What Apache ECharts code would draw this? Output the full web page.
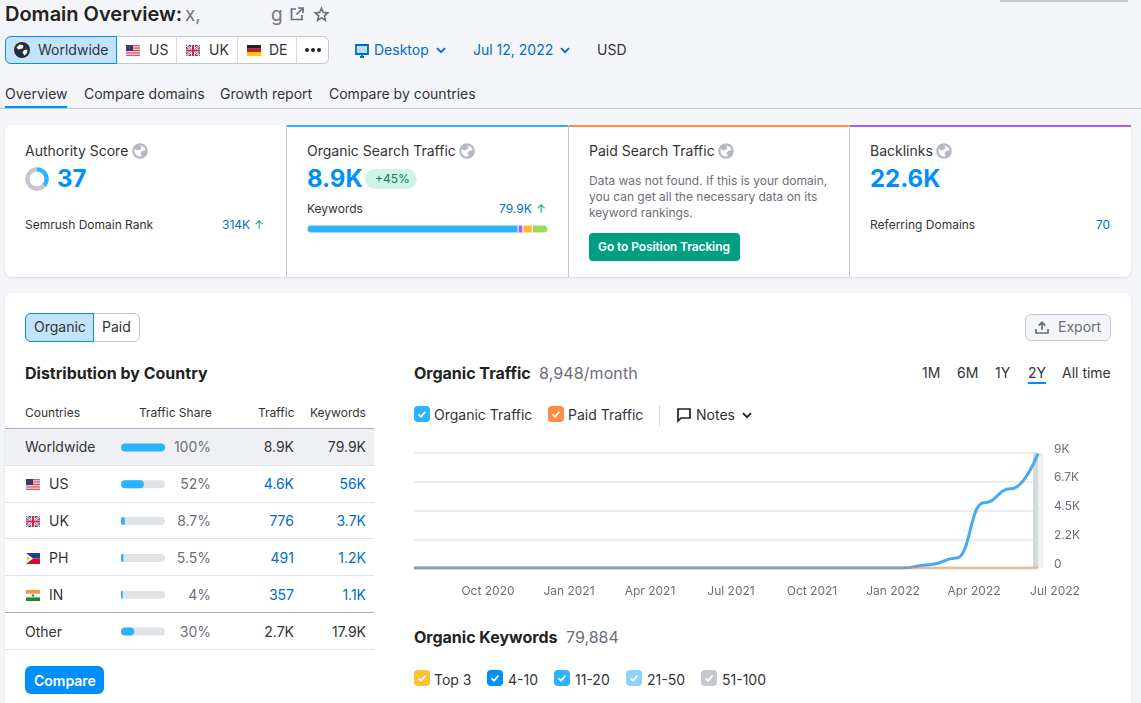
<!DOCTYPE html>
<html>
<head>
<meta charset="utf-8">
<script src="https://cdn.jsdelivr.net/npm/echarts@6/dist/echarts.min.js"></script>
<style>
html, body { margin: 0; padding: 0; background: #f4f5f9; }
body { position: relative; width: 1141px; height: 703px; overflow: hidden; font-family: Inter, sans-serif; color: #333; font-size: 14px; }
.t { position: absolute; white-space: nowrap; line-height: 18px; }
.r { text-align: right; }
.blue { color: #006dca; }
.grey { color: #6c6e79; }
.h { font-size: 16px; line-height: 20px; font-weight: 700; color: #222; }
.card { position: absolute; background: #fff; box-sizing: border-box; }
.abs { position: absolute; }
.chart { position: absolute; }
.rowline { position: absolute; left: 5px; width: 369px; height: 1px; background: #e0e1e9; }
.check { position: absolute; width: 16px; height: 16px; border-radius: 4px; }
.ic { position: absolute; overflow: visible; }
</style>
</head>
<body>

<svg width="0" height="0" style="position:absolute">
  <symbol id="globe" viewBox="0 0 16 16">
    <circle cx="8" cy="8" r="7.8" fill="currentColor"/>
    <circle cx="8" cy="8" r="5.6" fill="#fff"/>
    <path fill="currentColor" d="M6 2 9.5 3.5 8.5 6.5 4.5 7.5 2.5 5ZM10 8 14 7 13.5 11 10.5 14 8.5 10.5Z"/>
  </symbol>
  <symbol id="tick" viewBox="0 0 16 16">
    <path d="M4.5 8.3 7 10.6 11.5 5.6" fill="none" stroke="#fff" stroke-width="1.8"/>
  </symbol>
  <symbol id="chev" viewBox="0 0 10 7">
    <path d="M1 1.2 5 5.2 9 1.2" fill="none" stroke="currentColor" stroke-width="1.9"/>
  </symbol>
  <symbol id="fUS" viewBox="0 0 14 11">
    <rect width="14" height="11" fill="#fff"/>
    <path stroke="#c8283c" stroke-width="0.85" d="M0 .4H14M0 2.1H14M0 3.8H14M0 5.5H14M0 7.2H14M0 8.9H14M0 10.6H14"/>
    <rect width="7" height="6" fill="#3c3b6e"/>
  </symbol>
  <symbol id="fUK" viewBox="0 0 14 11">
    <rect width="14" height="11" fill="#2f4a9c"/>
    <path stroke="#fff" stroke-width="2.2" d="M0 0 14 11M14 0 0 11"/>
    <path stroke="#d2233c" stroke-width="0.9" d="M0 0 14 11M14 0 0 11"/>
    <path stroke="#fff" stroke-width="3.6" d="M7 0V11M0 5.5H14"/>
    <path stroke="#d2233c" stroke-width="2" d="M7 0V11M0 5.5H14"/>
  </symbol>
  <symbol id="fDE" viewBox="0 0 14 11">
    <rect width="14" height="3.7" fill="#222"/>
    <rect y="3.7" width="14" height="3.7" fill="#d8141c"/>
    <rect y="7.4" width="14" height="3.6" fill="#fc0"/>
  </symbol>
  <symbol id="fPH" viewBox="0 0 14 11">
    <rect width="14" height="5.5" fill="#1c3f94"/>
    <rect y="5.5" width="14" height="5.5" fill="#ce1126"/>
    <path fill="#fff" d="M0 0 7 5.5 0 11Z"/>
    <circle cx="2.2" cy="5.5" r="1.4" fill="#f5c518"/>
  </symbol>
  <symbol id="fIN" viewBox="0 0 14 11">
    <rect width="14" height="11" fill="#fff"/>
    <rect width="14" height="3.7" fill="#f39a3c"/>
    <rect y="7.4" width="14" height="3.6" fill="#1f8a2c"/>
    <circle cx="7" cy="5.5" r="1.3" fill="#5a6fb0"/>
  </symbol>
</svg>

<div class="abs" style="left:1000px;top:0;width:128px;height:1.5px;background:#c4c7cf"></div>

<div class="t" style="left:5px;top:2px;font-size:20px;line-height:24px;font-weight:600;color:#222">Domain Overview:</div>
<div class="t" style="left:185px;top:3px;font-size:19px;line-height:24px;color:#777">x,</div>
<div class="t" style="left:271px;top:3px;font-size:19px;line-height:24px;color:#777">g</div>
<svg class="ic" style="left:290px;top:7px;color:#6c6e79" width="14" height="14" viewBox="0 0 14 14"><path d="M6 2H1.5V12.5H12V8M8 1H13V6M13 1 6.5 7.5" fill="none" stroke="currentColor" stroke-width="1.7"/></svg>
<svg class="ic" style="left:314px;top:7px;color:#6c6e79" width="15" height="15" viewBox="0 0 15 15"><path d="M7.5 1.3 9.3 5.4 13.8 5.8 10.4 8.8 11.4 13.3 7.5 10.9 3.6 13.3 4.6 8.8 1.2 5.8 5.7 5.4Z" fill="none" stroke="currentColor" stroke-width="1.6"/></svg>

<div class="abs" style="left:5px;top:36px;width:322px;height:26px;border:1px solid #c4c7cf;border-radius:6px;background:#fff"></div>
<div class="abs" style="left:5px;top:36px;width:110px;height:26px;border:1px solid #008ff8;border-radius:6px 0 0 6px;background:#c2e3fb"></div>
<div class="abs" style="left:176px;top:37px;width:1px;height:26px;background:#d6d8df"></div>
<div class="abs" style="left:237px;top:37px;width:1px;height:26px;background:#d6d8df"></div>
<div class="abs" style="left:296px;top:37px;width:1px;height:26px;background:#d6d8df"></div>
<svg class="ic" style="left:14px;top:42px;color:#2a2c36" width="16" height="16" viewBox="0 0 16 16"><circle cx="8" cy="8" r="8" fill="currentColor"/><path fill="#fff" d="M5.5 2.5 9.5 3.5 8.5 6.5 4.5 7.5 2.5 5.5ZM10 8 13.5 7.5 13 11 10.5 13.5 8.5 10.5Z"/></svg>
<div class="t" style="left:38px;top:41px">Worldwide</div>
<svg class="ic" style="left:126px;top:45px" width="14" height="11"><use href="#fUS"/></svg>
<div class="t" style="left:149px;top:41px">US</div>
<svg class="ic" style="left:186px;top:45px" width="14" height="11"><use href="#fUK"/></svg>
<div class="t" style="left:209px;top:41px">UK</div>
<svg class="ic" style="left:247px;top:45px" width="14" height="11"><use href="#fDE"/></svg>
<div class="t" style="left:269px;top:41px">DE</div>
<svg class="ic" style="left:305px;top:48px;color:#222" width="16" height="4" viewBox="0 0 16 4"><circle cx="2" cy="2" r="2" fill="currentColor"/><circle cx="8" cy="2" r="2" fill="currentColor"/><circle cx="14" cy="2" r="2" fill="currentColor"/></svg>

<svg class="ic" style="left:355px;top:44px;color:#006dca" width="14" height="14" viewBox="0 0 14 14"><path d="M1 1H13V10H1Z" fill="#bfe0f7" stroke="currentColor" stroke-width="1.8"/><path d="M5 13H9M7 10V13" stroke="currentColor" stroke-width="1.8"/></svg>
<div class="t blue" style="left:374px;top:41px">Desktop</div>
<svg class="ic" style="left:436px;top:47px;color:#006dca" width="10" height="7"><use href="#chev"/></svg>
<div class="t blue" style="left:473px;top:41px">Jul 12, 2022</div>
<svg class="ic" style="left:560px;top:47px;color:#006dca" width="10" height="7"><use href="#chev"/></svg>
<div class="t" style="left:597px;top:41px">USD</div>

<div class="t" style="left:5px;top:85px">Overview</div>
<div class="abs" style="left:5px;top:106px;width:62px;height:2px;background:#008ff8"></div>
<div class="t" style="left:84px;top:85px">Compare domains</div>
<div class="t" style="left:220px;top:85px">Growth report</div>
<div class="t" style="left:329px;top:85px">Compare by countries</div>
<div class="abs" style="left:0;top:108px;width:1141px;height:1px;background:#c4c7cf"></div>

<!-- summary cards -->
<div class="card" style="left:5px;top:125px;width:1126px;height:152px;border-radius:6px;box-shadow:0 1px 2px rgba(0,0,0,.12)"></div>
<div class="abs" style="left:286px;top:125px;width:1px;height:152px;background:#c4c7cf"></div>
<div class="abs" style="left:568px;top:125px;width:1px;height:152px;background:#c4c7cf"></div>
<div class="abs" style="left:849px;top:125px;width:1px;height:152px;background:#c4c7cf"></div>
<div class="abs" style="left:287px;top:125px;width:281px;height:2px;background:#2bb3ff"></div>
<div class="abs" style="left:569px;top:125px;width:280px;height:2px;background:#ff8c43"></div>
<div class="abs" style="left:850px;top:125px;width:281px;height:2px;background:#a75cf2"></div>

<div class="t" style="left:25px;top:142px">Authority Score</div>
<svg class="ic" style="left:132px;top:143px;color:#b4b7c2" width="16" height="16"><use href="#globe"/></svg>
<div id="scoreRing" class="chart" style="left:25px;top:167px;width:24px;height:24px"></div>
<div class="t" style="left:57px;top:164px;font-size:24px;line-height:30px;font-weight:700;color:#008ff8">37</div>
<div class="t" style="left:25px;top:216px;font-size:12px">Semrush Domain Rank</div>
<div class="t blue" style="left:222px;top:216px;font-size:12px">314K</div>
<div class="t" style="left:254px;top:216px;font-size:12px;color:#009f81">↑</div>

<div class="t" style="left:307px;top:142px">Organic Search Traffic</div>
<svg class="ic" style="left:459px;top:143px;color:#b4b7c2" width="16" height="16"><use href="#globe"/></svg>
<div class="t" style="left:307px;top:164px;font-size:24px;line-height:30px;font-weight:700;color:#008ff8">8.9K</div>
<div class="abs" style="left:365px;top:169px;width:52px;height:20px;border-radius:10px;background:#cff3e4"></div>
<div class="t" style="left:375px;top:170px;font-size:12px;color:#007c65">+45%</div>
<div class="t" style="left:307px;top:200px;font-size:12px">Keywords</div>
<div class="t blue" style="left:499px;top:200px;font-size:12px">79.9K</div>
<div class="t" style="left:536px;top:200px;font-size:12px;color:#009f81">↑</div>
<div id="keywordBar" class="chart" style="left:307px;top:223px;width:241px;height:12px"></div>

<div class="t" style="left:589px;top:142px">Paid Search Traffic</div>
<svg class="ic" style="left:718px;top:143px;color:#b4b7c2" width="16" height="16"><use href="#globe"/></svg>
<div class="t grey" style="left:589px;top:173px;font-size:12px;line-height:16px">Data was not found. If this is your domain,<br>you can get all the necessary data on its<br>keyword rankings.</div>
<div class="abs" style="left:589px;top:233px;width:151px;height:28px;border-radius:4px;background:#009f81"></div>
<div class="t" style="left:598px;top:238px;font-size:12px;font-weight:600;color:#fff;letter-spacing:-0.1px">Go to Position Tracking</div>

<div class="t" style="left:870px;top:142px">Backlinks</div>
<svg class="ic" style="left:936px;top:143px;color:#b4b7c2" width="16" height="16"><use href="#globe"/></svg>
<div class="t" style="left:870px;top:164px;font-size:24px;line-height:30px;font-weight:700;color:#008ff8">22.6K</div>
<div class="t" style="left:870px;top:216px;font-size:12px">Referring Domains</div>
<div class="t blue" style="left:1096px;top:216px;font-size:12px">70</div>

<!-- main card -->
<div class="card" style="left:5px;top:293px;width:1126px;height:420px;border-radius:6px;box-shadow:0 1px 2px rgba(0,0,0,.12)"></div>
<div class="abs" style="left:25px;top:313px;width:113px;height:27px;border:1px solid #c4c7cf;border-radius:6px"></div>
<div class="abs" style="left:25px;top:313px;width:67px;height:27px;border:1px solid #008ff8;border-radius:6px 0 0 6px;background:#c2e3fb"></div>
<div class="t" style="left:34px;top:318px">Organic</div>
<div class="t" style="left:102px;top:318px">Paid</div>
<div class="abs" style="left:1025px;top:314px;width:84px;height:25px;border:1px solid #c4c7cf;border-radius:6px;background:#f4f5f9"></div>
<svg class="ic" style="left:1035px;top:321px;color:#6c6e79" width="14" height="13" viewBox="0 0 14 13"><path d="M7 9V1.5M3.7 4.6 7 1.3 10.3 4.6M1 8V12H13V8" fill="none" stroke="currentColor" stroke-width="1.7"/></svg>
<div class="t" style="left:1058px;top:318px;color:#6c6e79">Export</div>

<div class="t h" style="left:25px;top:363px">Distribution by Country</div>
<div class="t" style="left:25px;top:404px;font-size:12px">Countries</div>
<div class="t" style="left:139px;top:404px;font-size:12px">Traffic Share</div>
<div class="t" style="left:258px;top:404px;font-size:12px">Traffic</div>
<div class="t" style="left:310px;top:404px;font-size:12px">Keywords</div>

<div class="abs" style="left:5px;top:429px;width:369px;height:36px;background:#eff0f4"></div>
<div class="abs" style="left:5px;top:428px;width:369px;height:1px;background:#a9abb6"></div>
<div class="rowline" style="top:465px"></div>
<div class="rowline" style="top:502px"></div>
<div class="rowline" style="top:538px"></div>
<div class="rowline" style="top:575px"></div>
<div class="rowline" style="top:612px;background:#a9abb6"></div>
<div class="rowline" style="top:649px"></div>

<div id="countryRows"></div>
<div id="shareBars" class="chart" style="left:117px;top:429px;width:52px;height:221px"></div>

<div class="abs" style="left:25px;top:666px;width:79px;height:28px;border-radius:6px;background:#008ff8"></div>
<div class="t" style="left:34px;top:672px;font-weight:600;color:#fff">Compare</div>

<div class="t h" style="left:414px;top:363px">Organic Traffic</div>
<div class="t" style="left:539px;top:363px;font-size:16px;line-height:20px;color:#6c6e79;letter-spacing:0.1px">8,948/month</div>
<div class="t" style="left:922px;top:364px">1M</div>
<div class="t" style="left:957px;top:364px">6M</div>
<div class="t" style="left:995px;top:364px">1Y</div>
<div class="t" style="left:1028px;top:364px">2Y</div>
<div class="abs" style="left:1028px;top:382px;width:18px;height:2px;background:#008ff8"></div>
<div class="t" style="left:1062px;top:364px">All time</div>

<div class="check" style="left:414px;top:406px;background:#2bb3ff"><svg width="16" height="16"><use href="#tick"/></svg></div>
<div class="t" style="left:434px;top:406px">Organic Traffic</div>
<div class="check" style="left:548px;top:406px;background:#ff8c43"><svg width="16" height="16"><use href="#tick"/></svg></div>
<div class="t" style="left:568px;top:406px">Paid Traffic</div>
<div class="abs" style="left:659px;top:405px;width:1px;height:21px;background:#d6d8df"></div>
<svg class="ic" style="left:677px;top:408px;color:#222" width="14" height="14" viewBox="0 0 14 14"><path d="M1 1H13V10H4L1 13Z" fill="none" stroke="currentColor" stroke-width="1.7"/></svg>
<div class="t" style="left:696px;top:406px">Notes</div>
<svg class="ic" style="left:742px;top:412px;color:#222" width="10" height="7"><use href="#chev"/></svg>

<div id="main" class="chart" style="left:404px;top:436px;width:700px;height:170px"></div>

<div class="t h" style="left:414px;top:627px">Organic Keywords</div>
<div class="t" style="left:566px;top:627px;font-size:16px;line-height:20px;color:#6c6e79">79,884</div>
<div class="check" style="left:414px;top:670px;background:#ffc133"><svg width="16" height="16"><use href="#tick"/></svg></div>
<div class="t" style="left:434px;top:671px">Top 3</div>
<div class="check" style="left:487px;top:670px;background:#008ff8"><svg width="16" height="16"><use href="#tick"/></svg></div>
<div class="t" style="left:508px;top:671px">4-10</div>
<div class="check" style="left:554px;top:670px;background:#2bb3ff"><svg width="16" height="16"><use href="#tick"/></svg></div>
<div class="t" style="left:575px;top:671px">11-20</div>
<div class="check" style="left:626px;top:670px;background:#8ed0fb"><svg width="16" height="16"><use href="#tick"/></svg></div>
<div class="t" style="left:647px;top:671px">21-50</div>
<div class="check" style="left:701px;top:670px;background:#c4c7cf"><svg width="16" height="16"><use href="#tick"/></svg></div>
<div class="t" style="left:722px;top:671px">51-100</div>

<script>
// chart data
const months = ['Jul 2020','Aug 2020','Sep 2020','Oct 2020','Nov 2020','Dec 2020','Jan 2021','Feb 2021','Mar 2021','Apr 2021','May 2021','Jun 2021','Jul 2021','Aug 2021','Sep 2021','Oct 2021','Nov 2021','Dec 2021','Jan 2022','Feb 2022','Mar 2022','Apr 2022','May 2022','Jun 2022','Jul 2022']
const organicTraffic = [0,0,0,0,0,0,0,0,0,0,0,0,0,0,0,0,0,0,0,260,790,5100,6200,8948]
const paidTraffic = [0,0,0,0,0,0,0,0,0,0,0,0,0,0,0,0,0,0,0,0,0,0,0,0]
const yTicks = [0,2250,4500,6750,9000]
const yTickLabels = ['0','2.2K','4.5K','6.7K','9K']
const xTickLabels = ['Oct 2020','Jan 2021','Apr 2021','Jul 2021','Oct 2021','Jan 2022','Apr 2022','Jul 2022']

const countries = ['Worldwide','US','UK','PH','IN','Other']
const flags = ['','fUS','fUK','fPH','fIN','']
const shareLabels = ['100%','52%','8.7%','5.5%','4%','30%']
const shareValues = [100,52,8.7,5.5,4,30]
const trafficLabels = ['8.9K','4.6K','776','491','357','2.7K']
const keywordLabels = ['79.9K','56K','3.7K','1.2K','1.1K','17.9K']

const keywordBarNames = ['Informational','Navigational','Commercial','Transactional']
const keywordBarValues = [87.6,2,3.9,6.5]
const authorityScore = 37

// table rows
const rowTops = [429,466,503,540,577,614]
const rowHtml = []
countries.forEach(function (name, i) {
  const linked = i > 0 && i < 5
  const top = rowTops[i] + 9
  const labelLeft = linked ? 49 : 25
  const color = linked ? '#006dca' : '#333'
  if (flags[i]) {
    rowHtml.push('<svg class="ic" style="left:26px;top:' + (rowTops[i] + 13) + 'px" width="14" height="11"><use href="#' + flags[i] + '"/></svg>')
  }
  rowHtml.push('<div class="t" style="left:' + labelLeft + 'px;top:' + top + 'px">' + name + '</div>')
  rowHtml.push('<div class="t r grey" style="left:170px;width:41px;top:' + top + 'px">' + shareLabels[i] + '</div>')
  rowHtml.push('<div class="t r" style="left:240px;width:54px;top:' + top + 'px;color:' + color + '">' + trafficLabels[i] + '</div>')
  rowHtml.push('<div class="t r" style="left:310px;width:56px;top:' + top + 'px;color:' + color + '">' + keywordLabels[i] + '</div>')
})
document.getElementById('countryRows').innerHTML = rowHtml.join('')

// traffic share bars
const shareChart = echarts.init(document.getElementById('shareBars'))
shareChart.setOption({
  animation: false,
  grid: { left: 4, right: 4, top: 0, bottom: 0 },
  xAxis: { type: 'value', min: 0, max: 100, show: false },
  yAxis: { type: 'category', inverse: true, data: countries, show: false },
  series: [{
    type: 'bar',
    data: shareValues,
    barWidth: 8,
    showBackground: true,
    backgroundStyle: { color: '#dfe3e6', borderRadius: 4 },
    itemStyle: { color: '#2bb3ff', borderRadius: 4 }
  }]
})

// authority score ring
const ringChart = echarts.init(document.getElementById('scoreRing'))
ringChart.setOption({
  animation: false,
  series: [{
    type: 'pie',
    radius: ['62%', '98%'],
    center: ['50%', '50%'],
    startAngle: 90,
    silent: true,
    label: { show: false },
    data: [
      { value: authorityScore, itemStyle: { color: '#2bb3ff' } },
      { value: 100 - authorityScore, itemStyle: { color: '#c4c7cf' } }
    ]
  }]
})

// keyword intent bar
const barColors = ['#2bb3ff','#a75cf2','#ffb933','#9cd85a']
const kwChart = echarts.init(document.getElementById('keywordBar'))
kwChart.setOption({
  animation: false,
  grid: { left: 0, right: 0, top: 0, bottom: 0 },
  xAxis: { type: 'value', min: 0, max: 100, show: false },
  yAxis: { type: 'category', data: ['keywords'], show: false },
  series: keywordBarNames.map(function (name, i) {
    return {
      name: name,
      type: 'bar',
      stack: 'kw',
      barWidth: 8,
      data: [keywordBarValues[i]],
      itemStyle: {
        color: barColors[i],
        borderColor: '#fff',
        borderWidth: 0.5,
        borderRadius: i === 0 ? [4, 0, 0, 4] : (i === 3 ? [0, 4, 4, 0] : 0)
      }
    }
  })
})

// organic traffic line, the month labels sit on their own axis because they
// run slightly left of the points and go one month past the last one
const myChart = echarts.init(document.getElementById('main'))
const option = {
  animation: false,
  grid: [
    { left: 10, right: 66, top: 17, bottom: 38 },
    { left: 0, right: 49, top: 17, bottom: 38 }
  ],
  xAxis: [
    {
      type: 'category',
      boundaryGap: false,
      data: months.slice(0, 24),
      axisLine: { show: false },
      axisTick: { show: false },
      axisLabel: { show: false },
      splitLine: { show: false }
    },
    {
      type: 'category',
      gridIndex: 1,
      boundaryGap: false,
      data: months,
      axisLine: { show: false },
      axisTick: { show: false },
      splitLine: { show: false },
      axisLabel: {
        color: '#6c6e79',
        fontSize: 12,
        fontFamily: 'Inter',
        margin: 17,
        interval: 0,
        hideOverlap: false,
        formatter: function (v) { return xTickLabels.indexOf(v) >= 0 ? v : '' }
      }
    }
  ],
  yAxis: [
    {
      type: 'value',
      min: 0,
      max: 9000,
      interval: 2250,
      position: 'right',
      axisLine: { show: false },
      axisTick: { show: false },
      axisLabel: {
        color: '#6c6e79',
        fontSize: 12,
        fontFamily: 'Inter',
        margin: 16,
        verticalAlign: 'bottom',
        lineHeight: 8,
        formatter: function (v) { return yTickLabels[yTicks.indexOf(v)] }
      },
      splitLine: { lineStyle: { color: '#e6e7f0', width: 1.5 } }
    },
    { type: 'value', gridIndex: 1, show: false, splitLine: { show: false } }
  ],
  series: [
    {
      // hover band at the last month
      type: 'custom',
      silent: true,
      clip: false,
      data: [[23, 9000]],
      encode: { x: 0, y: 1 },
      renderItem: function (params, api) {
        const top = api.coord([api.value(0), api.value(1)])
        const bottom = api.coord([api.value(0), 0])
        return {
          type: 'group',
          children: [
            { type: 'rect', shape: { x: top[0] - 5, y: top[1], width: 10, height: bottom[1] - top[1] }, style: { fill: '#eef1f2' } },
            { type: 'rect', shape: { x: top[0] - 5, y: top[1], width: 5, height: bottom[1] - top[1] }, style: { fill: '#d5dadd' } }
          ]
        }
      }
    },
    {
      name: 'Organic Traffic',
      type: 'line',
      data: organicTraffic,
      smooth: true,
      smoothMonotone: 'x',
      showSymbol: false,
      lineStyle: { color: '#45a9f5', width: 3 }
    },
    {
      name: 'Paid Traffic',
      type: 'line',
      data: paidTraffic,
      showSymbol: false,
      lineStyle: { color: '#dd8a55', width: 3, opacity: 0.5 }
    }
  ]
}
myChart.setOption(option)
</script>
</body>
</html>
